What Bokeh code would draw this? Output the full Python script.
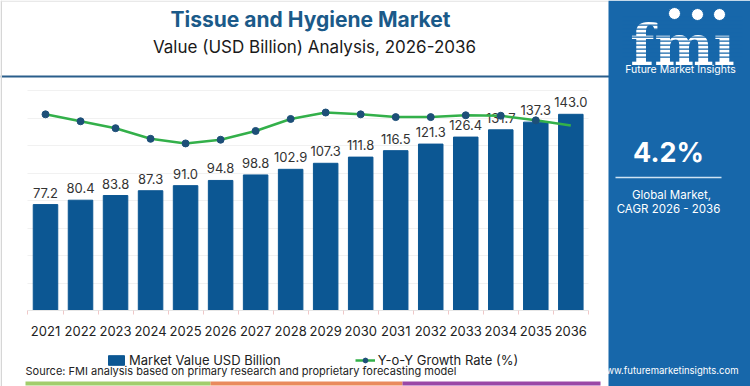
from bokeh.plotting import figure
from bokeh.models import (Range1d, FixedTicker, Label, Span, BoxAnnotation, Legend, LegendItem,
                          ColumnDataSource)
from bokeh.embed import file_html
from bokeh.resources import INLINE
from bokeh.core.properties import value

# ---------------- data ----------------
years = [2021, 2022, 2023, 2024, 2025, 2026, 2027, 2028, 2029, 2030, 2031, 2032, 2033, 2034, 2035, 2036]
market_value = [77.2, 80.4, 83.8, 87.3, 91.0, 94.8, 98.8, 102.9, 107.3, 111.8, 116.5, 121.3, 126.4, 131.7, 137.3, 143.0]
growth_rate = [4.25, 4.10, 3.95, 3.72, 3.62, 3.70, 3.89, 4.15, 4.29, 4.25, 4.19, 4.19, 4.23, 4.22, 4.12, 4.01]

title_text = "Tissue and Hygiene Market"
subtitle_text = "Value (USD Billion) Analysis, 2026-2036"
source_text = "Source: FMI analysis based on primary research and proprietary forecasting model"
legend_labels = ["Market Value USD Billion", "Y-o-Y Growth Rate (%)"]
cagr_text = "4.2%"
cagr_label = ["Global Market,", "CAGR 2026 - 2036"]
brand = "Future Market Insights"
site = "www.futuremarketinsights.com"

BAR = "#0c5793"
PANEL = "#1767aa"
TITLE = "#1b5a89"
FONT = "Inter"
W, H = 750, 386

p = figure(width=W, height=H, output_backend="svg", toolbar_location=None,
           x_range=Range1d(2019.715, 2041.131), y_range=Range1d(-55.39, 225.95),
           y_axis_location=None, min_border=0, title=None)
p.outline_line_color = None
p.background_fill_color = "white"
p.border_fill_color = "white"
p.xgrid.grid_line_color = None
p.ygrid.grid_line_color = "#f1f1f1"
p.ygrid.ticker = FixedTicker(ticks=[20, 40, 60, 80, 100, 120, 140, 160])
try:
    p.ygrid.cross_bounds = (years[0] - 0.5, years[-1] + 0.5)
except AttributeError:
    pass
p.extra_y_ranges = {"g": Range1d(-1.6467, 6.7167)}


def L(text, sx, wy, size, color="white", align="center", style="normal", font=FONT, baseline="middle"):
    p.add_layout(Label(x=sx, y=H - wy, x_units="screen", y_units="screen", text=text,
                       text_align=align, text_baseline=baseline, text_font=font,
                       text_font_style=style, text_font_size=size, text_color=color))


def box(l, r, t, b, color):
    p.add_layout(BoxAnnotation(left=l, right=r, top=H - t, bottom=H - b,
                               left_units="screen", right_units="screen",
                               top_units="screen", bottom_units="screen",
                               fill_color=color, fill_alpha=1, line_color=None, level="annotation"))


src = ColumnDataSource(dict(x=years, v=market_value, g=growth_rate,
                            lab=[f"{v:.1f}" for v in market_value]))

bars = p.vbar(x="x", top="v", width=0.70, source=src, color=BAR)
p.text(x="x", y="v", text="lab", source=src, text_align="center", text_baseline="bottom",
       y_offset=-7, text_font=value(FONT), text_font_size="13px", text_color="#333333")
line = p.line(x=years, y=growth_rate, y_range_name="g", line_color="#33b04a", line_width=2.5)
dots = p.scatter(x=years[:-1], y=growth_rate[:-1], y_range_name="g", size=7,
                 fill_color="#1d4f78", line_color="#1d4f78")

ax = p.xaxis[0]
ax.fixed_location = 0
ax.ticker = FixedTicker(ticks=years, minor_ticks=[y + 0.5 for y in [years[0] - 1] + years])
ax.bounds = (years[0] - 0.5, years[-1] + 0.5)
ax.axis_line_color = "#e6e6e6"
ax.major_tick_line_color = None
ax.minor_tick_line_color = "#f0c8c8"
ax.minor_tick_out = 4
ax.minor_tick_in = 0
ax.major_label_standoff = 9
ax.major_label_text_font = FONT
ax.major_label_text_font_size = "13px"
ax.major_label_text_color = "#222222"

# top rule and frame border
p.add_layout(Span(location=170.55, dimension="width", line_color="#2a5e8b", line_width=2))
box(0, 1.5, 0, H, "#d6d6d6")
box(0, 608, 0, 1.2, "#e2e2e2")

# titles and source
L(title_text, 310, 19, "21px", TITLE, style="bold")
L(subtitle_text, 314, 46, "17px", "#1a1a1a")
L(source_text, 25, 370, "11px", "#222222", align="left")

legend = Legend(items=[LegendItem(label=legend_labels[0], renderers=[bars]),
                       LegendItem(label=legend_labels[1], renderers=[line, dots])],
                location=(106, 18), orientation="horizontal", padding=0, margin=0, spacing=74,
                glyph_width=20, glyph_height=12, label_standoff=3,
                label_text_font=FONT, label_text_font_size="13px", label_text_color="#222222",
                border_line_color=None, background_fill_alpha=0)
p.add_layout(legend)

# bottom colour strip
box(25, 210, 381, 385, "#a2cd6c")
box(210, 402, 381, 385, "#e98a5c")
box(402, 600, 381, 385, "#9a48a6")

# ---------------- right panel ----------------
box(608, W, 0, H, PANEL)
L("fmı", 682, 44, "56px", font="DejaVu Serif", style="bold", baseline="alphabetic")
for yy in range(16, 60, 4):
    box(622, 742, yy, yy + 1.3, PANEL)
p.scatter(x=[2019.715 + 674 / 35.02, 2019.715 + 697 / 35.02, 2019.715 + 719 / 35.02],
          y=[(310 - 13) / 1.372, (310 - 14) / 1.372, (310 - 14) / 1.372],
          size=12, fill_color="white", line_color=PANEL, line_width=1, level="overlay")
L(brand, 680, 69, "10.5px")
L(cagr_text, 668, 152, "27px", style="bold")
box(615, 721, 176.3, 177.8, "#cfe3f3")
L(cagr_label[0], 671, 194, "11.5px")
L(cagr_label[1], 668, 208, "11.5px")
L(site, 668, 370, "9.5px")

open("out.html", "w").write(file_html(p, INLINE))
